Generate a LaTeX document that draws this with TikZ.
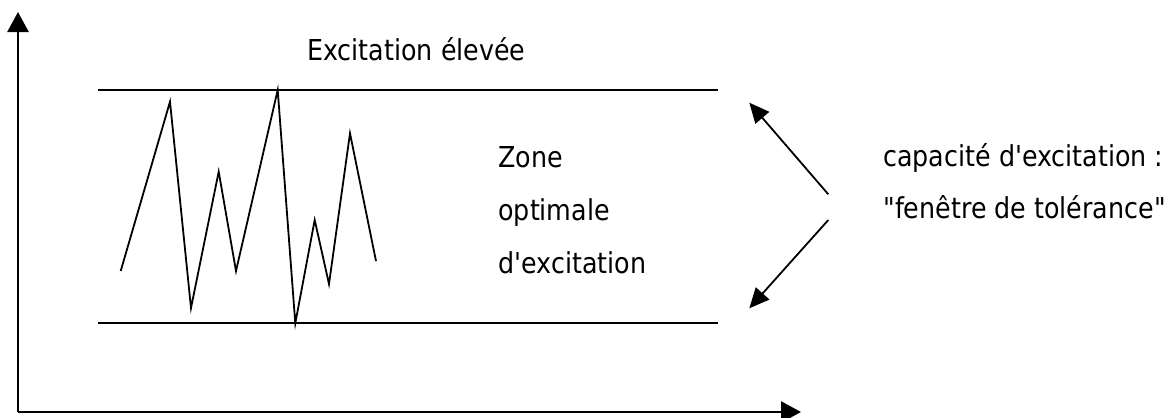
\documentclass[tikz,border=0pt]{standalone}
\usepackage{fontspec}
\newfontfamily\lblfont[FakeStretch=0.88]{DejaVu Sans}
\usetikzlibrary{arrows.meta}
\tikzset{
  axis/.style={line width=1.3pt,-{Triangle[length=10pt,width=10.5pt]}},
  band/.style={line width=1.2pt},
  signal/.style={line width=0.9pt,line join=miter},
  pointer/.style={line width=0.9pt,-{Triangle[length=10pt,width=9pt]}},
  lbl/.style={anchor=base west,inner sep=0pt,font=\lblfont\fontsize{14.4pt}{17pt}\selectfont}
}
\begin{document}
\begin{tikzpicture}[x=0.5pt,y=-0.5pt]
\useasboundingbox (0,0) rectangle (1174,418);
% axes
\coordinate (O) at (18,412);
\coordinate (Ytop) at (18,12);
\coordinate (Xend) at (801,412);
\draw[axis] (O) -- (Ytop);
\draw[axis] (O) -- (Xend);
% band lines
\coordinate (TL) at (98,90);
\coordinate (TR) at (718,90);
\coordinate (BL) at (98,323);
\coordinate (BR) at (718,323);
\draw[band] (TL) -- (TR);
\draw[band] (BL) -- (BR);
% signal
\draw[signal] (120.7,271) -- (170,101.7) -- (191,308) -- (218.7,171.7) -- (236,271)
  -- (277.7,90) -- (295.3,323.3) -- (314.7,220) -- (329,284) -- (350,133.3) -- (376,261);
% labels
\node[lbl] (high) at (307,60) {Excitation élevée};
\node[lbl] (zone) at (498,167) {Zone};
\node[lbl] (opt) at (498,220) {optimale};
\node[lbl] (dexc) at (498,273) {d'excitation};
\node[lbl] (cap) at (883,166) {capacité d'excitation :};
\node[lbl] (fen) at (883,218.5) {"fenêtre de tolérance"};
% pointers
\coordinate (p1s) at (828.3,194.3);
\coordinate (p1e) at (749.3,102.7);
\coordinate (p2s) at (828.3,220);
\coordinate (p2e) at (749.3,308.3);
\draw[pointer] (p1s) -- (p1e);
\draw[pointer] (p2s) -- (p2e);
\end{tikzpicture}
\end{document}
